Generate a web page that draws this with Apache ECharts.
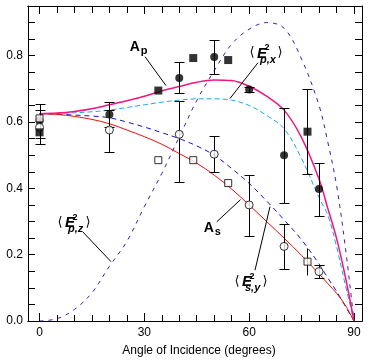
<!DOCTYPE html>
<html><head><meta charset="utf-8">
<script src="https://cdn.jsdelivr.net/npm/echarts@6/dist/echarts.min.js"></script>
<style>html,body{margin:0;padding:0;background:#fff}#c{width:384px;height:362px}</style>
</head><body><div id="c"></div>
<script>
// ---- data ----
const curveAngles = [0,5,10,15,20,25,30,35,40,45,50,55,60,65,70,75,80,82.5,85,87.5,90];
const curveAp  = [0.625,0.627,0.632,0.640,0.652,0.664,0.678,0.694,0.707,0.720,0.727,0.725,0.708,0.678,0.636,0.553,0.428,0.340,0.250,0.135,0];
const curveEpx = [0.625,0.626,0.628,0.631,0.636,0.644,0.652,0.660,0.666,0.670,0.670,0.666,0.650,0.620,0.580,0.490,0.372,0.320,0.225,0.110,0];
const curveEsy = [0.625,0.624,0.621,0.618,0.613,0.600,0.585,0.568,0.550,0.528,0.500,0.460,0.415,0.362,0.305,0.245,0.172,0.130,0.090,0.045,0];
const curveAs  = [0.625,0.623,0.617,0.608,0.595,0.576,0.556,0.533,0.505,0.476,0.440,0.398,0.350,0.300,0.250,0.198,0.142,0.113,0.084,0.048,0];
const curveEpz = [0,0.007,0.035,0.085,0.165,0.240,0.345,0.445,0.555,0.665,0.755,0.835,0.880,0.900,0.883,0.790,0.650,0.540,0.410,0.225,0];

const circAngles = [0,20,40,50,60,70,80];
const filledCirc = [0.604,0.623,0.733,0.796,0.698,0.500,0.398];
const filledCircLo = [0.553,0.586,0.688,0.746,0.690,0.356,0.317];
const filledCircHi = [0.655,0.660,0.781,0.846,0.706,0.643,0.478];
const openCirc = [0.584,0.576,0.563,0.503,0.350,0.225,0.149];
const openCircLo = [0.533,0.511,0.420,0.450,0.257,0.156,0.129];
const openCircHi = [0.635,0.636,0.665,0.558,0.441,0.292,0.169];

const sqAngles = [0,34,44,54,76.7];
const filledSq = [0.569,0.695,0.793,0.787,0.571];
const openSq   = [0.611,0.485,0.485,0.416,0.179];
const sqBarAngle = [76.7];
const filledSqLo = [0.443], filledSqHi = [0.700];
const openSqLo = [0.139], openSqHi = [0.219];

const xLabels = [0,30,60,90];
const yLabels = [0,0.2,0.4,0.6,0.8];
const xAxisName = 'Angle of Incidence (degrees)';

// ---- chart ----
const chart = echarts.init(document.getElementById('c'), null, {renderer:'canvas'});
const pairs = (xs, ys) => xs.map((x,i)=>[x, ys[i]]);
const triples = (xs, lo, hi) => xs.map((x,i)=>[x, lo[i], hi[i]]);
const minorX = []; for (let v=0; v<=90; v+=5) minorX.push(v);
const minorY = []; for (let k=0; k<=18; k++) minorY.push(+(k*0.05).toFixed(2));
const FONT = 'Liberation Sans';

function errRender(capW){
  return function(params, api){
    const x = api.value(0), lo = api.value(1), hi = api.value(2);
    const a = api.coord([x, lo]), b = api.coord([x, hi]);
    const px = Math.round(a[0]) + 0.5;
    const y1 = Math.round(a[1]) + 0.5, y2 = Math.round(b[1]) + 0.5;
    const st = {stroke:'#000', lineWidth:1};
    const ch = [{type:'line', shape:{x1:px,y1:y1,x2:px,y2:y2}, style:st}];
    if (capW) {
      ch.push({type:'line', shape:{x1:px-capW,y1:y1,x2:px+capW,y2:y1}, style:st});
      ch.push({type:'line', shape:{x1:px-capW,y1:y2,x2:px+capW,y2:y2}, style:st});
    }
    return {type:'group', children: ch};
  };
}

function xAx(pos, vals, len, labels){
  return {type:'value', min:-3.3, max:92.3, position:pos,
    axisLine:{show:true, onZero:false, lineStyle:{color:'#000', width:1}},
    axisTick:{show:true, inside:true, length:len, customValues:vals, lineStyle:{color:'#000'}},
    axisLabel: labels ? {show:true, customValues:xLabels, margin:6, color:'#000', fontFamily:FONT, fontSize:12} : {show:false},
    splitLine:{show:false},
    name: labels ? xAxisName : '', nameLocation:'middle', nameGap:24,
    nameTextStyle:{color:'#000', fontFamily:FONT, fontSize:12, padding:[0,0,0,8]}
  };
}
function yAx(pos, labels){
  return {type:'value', min:0, max:0.95, position:pos,
    axisLine:{show:true, onZero:false, lineStyle:{color:'#000', width:1}},
    axisTick:{show:true, inside:true, length:7, customValues:minorY, lineStyle:{color:'#000'}},
    axisLabel: labels ? {show:true, customValues:yLabels, margin:5, color:'#000', fontFamily:FONT, fontSize:12,
      formatter:v=>Number(v).toFixed(1)} : {show:false},
    splitLine:{show:false}
  };
}

const lineS = (data, color, width, dash) => ({
  type:'line', data, xAxisIndex:0, yAxisIndex:0, showSymbol:false, smooth:0.35, silent:true,
  lineStyle:{color, width, type: dash || 'solid'}, z:2
});

chart.setOption({
  animation:false,
  backgroundColor:'#fff',
  grid:{left:28, top:6, width:334, height:317, containLabel:false},
  xAxis:[ xAx('bottom', minorX, 6, true), xAx('top', minorX, 7, false),
          xAx('bottom', xLabels, 8, false), xAx('top', xLabels, 8, false) ],
  yAxis:[ yAx('left', true), yAx('right', false) ],
  series:[
    lineS(pairs(curveAngles, curveEpz), '#4a14b8', 1, [4,5]),
    lineS(pairs(curveAngles, curveEpx), '#1ea8e6', 1, [5,3]),
    lineS(pairs(curveAngles, curveEsy), '#1414cc', 1, [5,4]),
    lineS(pairs(curveAngles, curveAs), '#e8100c', 1),
    lineS(pairs(curveAngles, curveAp), '#f0167f', 1.5),
    {type:'custom', renderItem:errRender(5), data:triples(circAngles, filledCircLo, filledCircHi), z:3, silent:true},
    {type:'custom', renderItem:errRender(5), data:triples(circAngles, openCircLo, openCircHi), z:3, silent:true},
    {type:'custom', renderItem:errRender(5), data:triples(sqBarAngle, filledSqLo, filledSqHi), z:3, silent:true},
    {type:'custom', renderItem:errRender(0), data:triples(sqBarAngle, openSqLo, openSqHi), z:3, silent:true},
    {type:'scatter', data:pairs(circAngles, filledCirc), symbol:'circle', symbolSize:8, z:4, silent:true,
      itemStyle:{color:'#000'}},
    {type:'scatter', data:pairs(circAngles, openCirc), symbol:'circle', symbolSize:8, z:5, silent:true,
      itemStyle:{color:'#fff', borderColor:'#000', borderWidth:1}},
    {type:'scatter', data:pairs(sqAngles, filledSq), symbol:'rect', symbolSize:8, z:6, silent:true,
      itemStyle:{color:'#000'}},
    {type:'scatter', data:pairs(sqAngles, openSq), symbol:'rect', symbolSize:7, z:7, silent:true,
      itemStyle:{color:'#fff', borderColor:'#000', borderWidth:1}}
  ]
});

// ---- annotations (anchored in data coordinates) ----
const P = (d) => chart.convertToPixel({xAxisIndex:0, yAxisIndex:0}, d);
const g = [];
function leader(a, b){
  const p = P(a), q = P(b);
  g.push({type:'line', shape:{x1:p[0],y1:p[1],x2:q[0],y2:q[1]}, style:{stroke:'#000', lineWidth:1}, z:10});
}
function txt(x, y, s, size, weight, style, align){
  g.push({type:'text', x, y, z:10, style:{text:s, fill:'#000', font:`${style||'normal'} ${weight||'normal'} ${size}px ${FONT}`,
    textAlign:align||'center', textVerticalAlign:'middle'}});
}
function aLabel(anchor, sub){
  const p = P(anchor);
  txt(p[0], p[1], 'A', 14, 'bold');
  txt(p[0]+6, p[1]+4, sub, 11, 'bold', 'normal', 'left');
}
function eLabel(anchor, sub){
  const p = P(anchor), x = p[0], y = p[1];
  g.push({type:'text', x:x+2, y:y, z:10, style:{text:'\u27e8', fill:'#000', font:'normal 13px DejaVu Sans', textAlign:'center', textVerticalAlign:'middle'}});
  txt(x+12, y+1, 'E', 15, 'bold', 'italic');
  txt(x+17, y-5, '2', 9, 'bold', 'normal');
  txt(x+10, y+7, sub, 11, 'bold', 'italic', 'left');
  g.push({type:'text', x:x+30, y:y, z:10, style:{text:'\u27e9', fill:'#000', font:'normal 13px DejaVu Sans', textAlign:'center', textVerticalAlign:'middle'}});
}
leader([30.19,0.797],[36.2,0.710]);
aLabel([27.24,0.825], 'p');
leader([62.53,0.779],[54.52,0.671]);
eLabel([60.25,0.809], 'p,x');
leader([12.36,0.269],[20.46,0.179]);
eLabel([5.29,0.298], 'p,z');
leader([50.71,0.299],[57.52,0.366]);
aLabel([48.42,0.280], 's');
leader([61.67,0.153],[65.97,0.345]);
eLabel([55.95,0.120], 's,y');
chart.setOption({graphic:{elements:g}});
</script>
</body></html>
